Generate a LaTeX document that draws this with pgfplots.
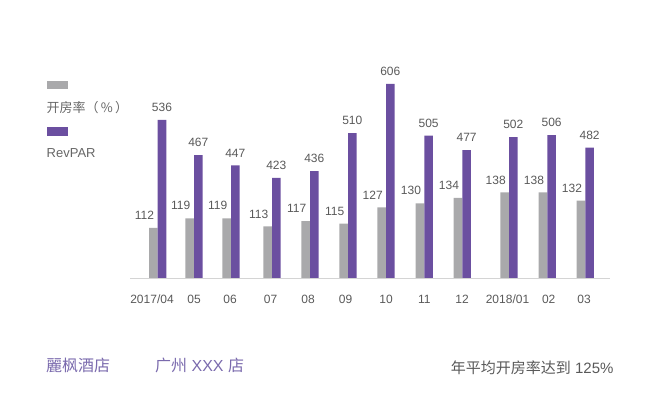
\documentclass[border=0pt]{standalone}
\usepackage{pgfplots}
\pgfplotsset{compat=1.18}
\usepackage{fontspec}
\setmainfont{Liberation Sans}
\newfontfamily\cjk{Noto Sans CJK SC}
\definecolor{barGray}{HTML}{A9A9AB}
\definecolor{barPurple}{HTML}{6B4FA0}
\definecolor{txt}{HTML}{595959}
\definecolor{legtxt}{HTML}{666666}
\definecolor{brand}{HTML}{7A6AAD}
\definecolor{axisgray}{HTML}{D4D4D4}
\pgfplotsset{
  base/.style={
    width=650bp, height=278.7bp, scale only axis,
    xmin=0, xmax=650,
    axis line style={draw=none},
    major tick length=0pt,
    ytick=\empty,
    clip mode=individual,
    /pgf/number format/assume math mode=true,
    at={(0,0)}, anchor=south west,
  },
}
\begin{document}
\begin{tikzpicture}[x=1bp,y=1bp]
% occupancy rate (gray)
\begin{axis}[base, name=ax,
  ymin=74.6, ymax=279.4,
  xtick={152,194,230,270.5,308,345.5,386,424.3,462,507.5,548.7,584},
  xticklabels={2017/04,05,06,07,08,09,10,11,12,2018/01,02,03},
  xticklabel style={anchor=center, yshift=-20.3bp, inner sep=0pt,
    font=\fontsize{12bp}{14bp}\selectfont, text=txt},
]
\addplot[ybar, bar width=8.6bp, bar shift=-4.3bp, fill=barGray, draw=none,
  nodes near coords,
  nodes near coords style={anchor=center, xshift=-13.3bp, yshift=12.5bp,
    font=\fontsize{12bp}{14bp}\selectfont, text=txt},
] coordinates {
  (157.7,112) (194,119) (231,119) (272,113) (310,117) (348,115)
  (386,127) (424.3,130) (462.3,134) (509,138) (547.3,138) (585.3,132)
};
\end{axis}
% RevPAR (purple)
\begin{axis}[base,
  ymin=226.4, ymax=769.4,
  xtick=\empty,
]
\addplot[ybar, bar width=8.6bp, bar shift=4.3bp, fill=barPurple, draw=none,
  nodes near coords,
  nodes near coords style={anchor=center, xshift=4.3bp, yshift=12.5bp,
    font=\fontsize{12bp}{14bp}\selectfont, text=txt},
] coordinates {
  (157.7,536) (194,467) (231,447) (272,423) (310,436) (348,510)
  (386,606) (424.3,505) (462.3,477) (509,502) (547.3,506) (585.3,482)
};
\end{axis}
\begin{scope}[shift={(ax.south west)}]
  \draw[draw=axisgray, line width=0.9bp] (130,0) -- (610,0);
  % legend
  \fill[barGray] (47.3,189.4) rectangle (68.3,198);
  \node[anchor=west, inner sep=0pt, text=legtxt, font=\cjk\fontsize{13bp}{15bp}\selectfont] at (46.5,170.7) {开房率（\,\%\,）};
  \fill[barPurple] (47.3,142.7) rectangle (68.3,152);
  \node[anchor=west, inner sep=0pt, text=legtxt, font=\fontsize{13bp}{15bp}\selectfont] at (46.5,125.7) {RevPAR};
  % footer
  \node[anchor=west, inner sep=0pt, text=brand, font=\cjk\fontsize{16bp}{18bp}\selectfont] at (46,-87) {麗枫酒店};
  \node[anchor=west, inner sep=0pt, text=brand, font=\fontsize{16bp}{18bp}\selectfont] at (155,-87) {{\cjk 广州} XXX {\cjk 店}};
  \node[anchor=west, inner sep=0pt, text=txt, font=\fontsize{15bp}{17bp}\selectfont] at (450.7,-89) {{\cjk 年平均开房率达到} 125\%};
  \pgfresetboundingbox
  \path (0,-125.3) rectangle (650,278.7);
\end{scope}
\end{tikzpicture}
\end{document}
